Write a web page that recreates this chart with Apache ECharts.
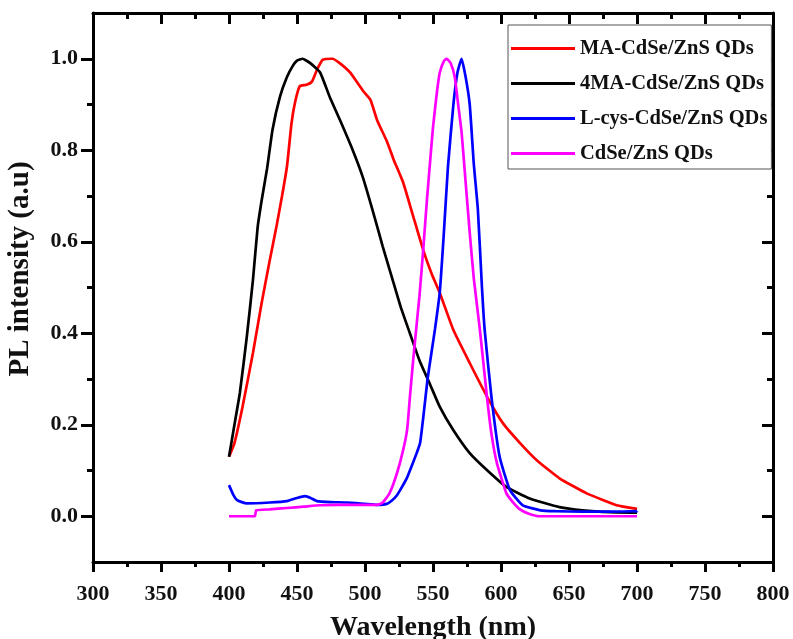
<!DOCTYPE html>
<html>
<head>
<meta charset="utf-8">
<script src="https://cdn.jsdelivr.net/npm/echarts@6.0.0/dist/echarts.min.js"></script>
<style>
    html, body { margin: 0; padding: 0; background: #ffffff; }
    #main { width: 793px; height: 639px; }
</style>
</head>
<body>
<div id="main"></div>
<script>
// 图例名称
var seriesNames = ['MA-CdSe/ZnS QDs', '4MA-CdSe/ZnS QDs', 'L-cys-CdSe/ZnS QDs', 'CdSe/ZnS QDs'];
var seriesColors = ['#ff0000', '#000000', '#0000ff', '#ff00ff'];

// MA-CdSe/ZnS (红)
var maX = [400, 404, 410, 417.6, 424, 430, 435, 439, 442.6, 446, 448.5, 452, 457, 461, 464.7, 469, 476, 481.6, 489, 498.5, 504, 509, 516, 521, 528, 535, 543, 549, 555, 565, 577, 590, 601.5, 614, 626.5, 643, 663, 685, 700];
var maY = [0.13, 0.16, 0.24, 0.357, 0.466, 0.56, 0.635, 0.70, 0.764, 0.86, 0.904, 0.94, 0.943, 0.95, 0.976, 0.998, 1.0, 0.99, 0.97, 0.93, 0.91, 0.865, 0.82, 0.78, 0.73, 0.66, 0.58, 0.53, 0.488, 0.407, 0.335, 0.26, 0.203, 0.16, 0.122, 0.083, 0.05, 0.024, 0.016];

// 4MA-CdSe/ZnS (黑)
var ma4X = [400, 404, 408, 413, 417.6, 421, 424, 428, 432, 437.5, 442.6, 447, 450, 454, 460, 467, 474, 481.6, 491, 498.5, 507, 513, 520, 526, 533, 540, 548, 555, 565, 577, 590, 604, 621, 643, 660, 680, 700];
var ma4Y = [0.13, 0.2, 0.27, 0.39, 0.516, 0.63, 0.69, 0.76, 0.845, 0.917, 0.96, 0.985, 0.996, 1.0, 0.99, 0.97, 0.917, 0.866, 0.8, 0.74, 0.654, 0.59, 0.52, 0.46, 0.40, 0.341, 0.287, 0.239, 0.188, 0.138, 0.1, 0.064, 0.039, 0.02, 0.013, 0.009, 0.008];

// L-cys-CdSe/ZnS (蓝)
var cysX = [400, 403, 406, 413, 430, 442.6, 450, 456, 460, 464.7, 475, 487, 500, 509, 516, 520, 523.5, 527, 531, 535, 538, 540.5, 543, 546, 549, 551.5, 555, 558, 561, 565, 568, 571, 574, 577, 580, 583, 586, 588, 593, 599, 606.6, 616, 629, 640, 660, 680, 700];
var cysY = [0.068, 0.048, 0.035, 0.028, 0.03, 0.033, 0.04, 0.044, 0.04, 0.033, 0.031, 0.03, 0.027, 0.025, 0.027, 0.035, 0.046, 0.063, 0.085, 0.115, 0.138, 0.16, 0.22, 0.3, 0.36, 0.41, 0.49, 0.62, 0.764, 0.9, 0.97, 1.0, 0.96, 0.9, 0.77, 0.67, 0.5, 0.407, 0.26, 0.13, 0.057, 0.024, 0.013, 0.011, 0.01, 0.01, 0.011];

// CdSe/ZnS (品红)
var bareX = [400, 419, 420, 430, 442.6, 455, 467, 480, 495, 509, 513, 518, 523.5, 528, 531, 533, 536, 540, 543, 545.5, 548, 550, 553, 555, 558, 560, 563, 566, 568.5, 571, 574, 577, 580, 584.5, 589.7, 593, 597, 604, 609, 614, 620, 628, 640, 660, 680, 700];
var bareY = [0.0, 0.0, 0.013, 0.015, 0.018, 0.021, 0.024, 0.025, 0.025, 0.025, 0.03, 0.05, 0.094, 0.144, 0.19, 0.26, 0.36, 0.48, 0.59, 0.69, 0.78, 0.85, 0.93, 0.97, 0.995, 1.0, 0.99, 0.96, 0.9, 0.84, 0.73, 0.62, 0.52, 0.407, 0.26, 0.18, 0.116, 0.05, 0.03, 0.015, 0.006, 0.0, 0.0, 0.0, 0.0, 0.0];

// 坐标轴刻度
var xTicks = [300, 350, 400, 450, 500, 550, 600, 650, 700, 750, 800];
var yMajor = [0.0, 0.2, 0.4, 0.6, 0.8, 1.0];
var yMinor = [0.1, 0.3, 0.5, 0.7, 0.9];

var xSeries = [maX, ma4X, cysX, bareX];
var ySeries = [maY, ma4Y, cysY, bareY];

var fontFam = "'Liberation Serif', 'Times New Roman', serif";
var chart = echarts.init(document.getElementById('main'), null, { renderer: 'canvas' });

function zip(xs, ys) {
    var out = [];
    for (var i = 0; i < xs.length; i++) {
        out.push([xs[i], ys[i]]);
    }
    return out;
}

var lineAxis = { show: true, onZero: false, lineStyle: { color: '#000', width: 3 } };

var series = [];
for (var i = 0; i < seriesNames.length; i++) {
    series.push({
        name: seriesNames[i],
        type: 'line',
        xAxisIndex: 0,
        yAxisIndex: 0,
        data: zip(xSeries[i], ySeries[i]),
        showSymbol: false,
        smooth: 0.15,
        lineStyle: { color: seriesColors[i], width: 2.7 },
        itemStyle: { color: seriesColors[i] }
    });
}

var option = {
    backgroundColor: '#ffffff',
    animation: false,
    // v6 默认会把轴标签收进容器，这里关掉，按像素放网格
    grid: { left: 93, right: 20, top: 13, bottom: 77, outerBoundsMode: 'none' },
    legend: {
        orient: 'vertical',
        left: 508,
        top: 25,
        data: seriesNames,
        icon: 'rect',
        itemWidth: 64,
        itemHeight: 3,
        itemGap: 14,
        padding: [13, 4, 5, 3],
        backgroundColor: '#ffffff',
        borderColor: '#555555',
        borderWidth: 1,
        borderRadius: 0,
        selectedMode: false,
        textStyle: { fontFamily: fontFam, fontWeight: 'bold', fontSize: 20.5, color: '#111' }
    },
    xAxis: [{
        type: 'value',
        position: 'bottom',
        min: 300, max: 800, interval: 50,
        name: 'Wavelength (nm)',
        nameLocation: 'middle',
        nameGap: 52,
        nameTextStyle: { fontFamily: fontFam, fontWeight: 'bold', fontSize: 28, color: '#111' },
        axisLine: lineAxis,
        axisTick: { show: true, length: 10, lineStyle: { color: '#000', width: 3 } },
        minorTick: { show: true, splitNumber: 2, length: 5, lineStyle: { color: '#000', width: 3 } },
        axisLabel: {
            margin: 21,
            customValues: xTicks,
            fontFamily: fontFam, fontWeight: 'bold', fontSize: 22, color: '#111'
        },
        splitLine: { show: false }
    }, {
        type: 'value',
        position: 'top',
        min: 300, max: 800, interval: 50,
        axisLine: lineAxis,
        axisTick: { show: true, inside: true, length: 11, lineStyle: { color: '#000', width: 3 } },
        minorTick: { show: true, splitNumber: 2, length: 6, lineStyle: { color: '#000', width: 3 } },
        axisLabel: { show: false },
        splitLine: { show: false }
    }],
    yAxis: [{
        type: 'value',
        position: 'left',
        min: -0.1, max: 1.1, interval: 0.1,
        name: 'PL intensity (a.u)',
        nameLocation: 'middle',
        nameGap: 58,
        nameTextStyle: { fontFamily: fontFam, fontWeight: 'bold', fontSize: 29, color: '#111', padding: [0, 0, 0, 37] },
        axisLine: lineAxis,
        axisTick: { show: true, length: 12, customValues: yMajor, lineStyle: { color: '#000', width: 3 } },
        axisLabel: {
            margin: 15,
            customValues: yMajor,
            formatter: function (v) { return v.toFixed(1); },
            fontFamily: fontFam, fontWeight: 'bold', fontSize: 22, color: '#111'
        },
        splitLine: { show: false }
    }, {
        // 左侧次刻度
        type: 'value',
        position: 'left',
        min: -0.1, max: 1.1, interval: 0.1,
        axisLine: { show: false, onZero: false },
        axisTick: { show: true, length: 6, customValues: yMinor, lineStyle: { color: '#000', width: 3 } },
        axisLabel: { show: false },
        splitLine: { show: false }
    }, {
        type: 'value',
        position: 'right',
        min: -0.1, max: 1.1, interval: 0.1,
        axisLine: lineAxis,
        axisTick: { show: true, inside: true, length: 11, customValues: yMajor, lineStyle: { color: '#000', width: 3 } },
        axisLabel: { show: false },
        splitLine: { show: false }
    }, {
        // 右侧次刻度
        type: 'value',
        position: 'right',
        min: -0.1, max: 1.1, interval: 0.1,
        axisLine: { show: false, onZero: false },
        axisTick: { show: true, inside: true, length: 6, customValues: yMinor, lineStyle: { color: '#000', width: 3 } },
        axisLabel: { show: false },
        splitLine: { show: false }
    }],
    series: series
};

chart.setOption(option);
</script>
</body>
</html>
